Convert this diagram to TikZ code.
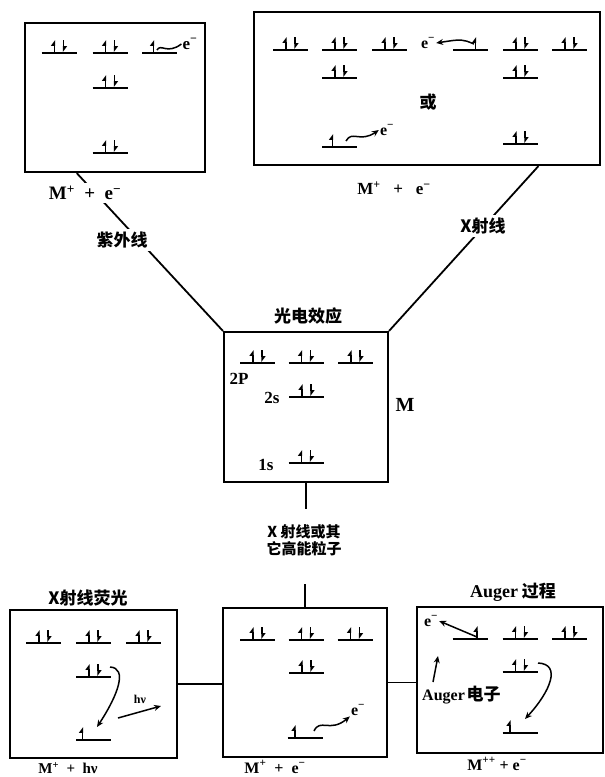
\documentclass[tikz,border=0pt]{standalone}
\usepackage{fontspec}
\setmainfont{Liberation Serif}
\newfontfamily\cjk{Noto Sans CJK SC}
\usetikzlibrary{arrows.meta,calc}
\begin{document}
\begin{tikzpicture}[x=1pt,y=-1pt,
  box/.style={draw,line width=2.2pt,inner sep=0pt},
  conn/.style={line width=1.8pt},
  lvl/.style={line width=2.2pt},
  el/.style={line width=1.5pt,-{Triangle[left,length=5pt,width=7pt]}},
  arr/.style={line width=1.5pt,-{Stealth[length=7pt,width=6pt]}},
  pics/lev2/.style={code={\draw[lvl] (-17.5,0)--(17.5,0); \draw[el] (-4.5,-1)--(-4.5,-13); \draw[el] (4.5,-13)--(4.5,-1);}},
  pics/lev1/.style={code={\draw[lvl] (-17.5,0)--(17.5,0); \draw[el] (#1,-1)--(#1,-13);}},
  lat/.style={font=\bfseries\fontsize{#1}{#1}\selectfont,inner sep=1pt},
  lat/.default=15,
  cn/.style={font=\cjk\bfseries\fontsize{#1}{#1}\selectfont},
  cn/.default=17,
  wh/.style={fill=white,inner sep=3pt}
]
\useasboundingbox (0,0) rectangle (605,777);
% boxes
\node[box,minimum width=180,minimum height=149] (tl) at (115,97.5) {};
\node[box,minimum width=346,minimum height=153] (tr) at (427,88.5) {};
\node[box,minimum width=164,minimum height=150] (mid) at (306,407) {};
\node[box,minimum width=167,minimum height=148] (bl) at (93.5,684) {};
\node[box,minimum width=164,minimum height=149] (bm) at (305,682.5) {};
\node[box,minimum width=186,minimum height=146] (br) at (510,680) {};
% connectors
\draw[conn] ($(tl.south west)!0.29!(tl.south east)$) -- (mid.north west);
\draw[conn] ($(tr.south west)!0.82!(tr.south east)$) -- (mid.north east);
\node[lat=19,wh] (tlres) at (85,193) {M\textsuperscript{+}\ \ +\ \ e\textsuperscript{−}};
\node[cn,wh] (uv) at (122,240) {紫外线};
\node[cn,wh] (xr) at (483,226) {\bfseries X射线};
\node[lat=17] (trres) at (394,188) {M\textsuperscript{+}\ \ \ +\ \ \ e\textsuperscript{−}};
\node[cn=15,align=center,inner sep=1pt] (hx) at (304,540) {X 射线或其\\[2pt]它高能粒子};
\draw[conn] (mid.south) -- ($(mid.south)+(0,26)$) coordinate (m1);
\draw[conn] (bm.north) -- ($(bm.north)+(0,-23)$) coordinate (m2);
\draw[conn] (bl.east) -- (bl.east -| bm.west);
\draw[conn] (bm.east) -- (bm.east -| br.west);
% titles
\node[cn] (pe) at (308,316) {光电效应};
\node[cn] (xf) at (88,598) {X射线荧光};
\node[cn] (ag) at (513,592) {{\bfseries\fontsize{18}{18}\selectfont\rmfamily Auger} 过程};
% top-left levels
\pic at (59,53) {lev2}; \pic at (110,53) {lev2}; \pic at (159.5,53) {lev1=-6};
\pic at (110,88) {lev2}; \pic at (110,153) {lev2};
\node[lat=17] (e1) at (190,44) {e\textsuperscript{−}};
\draw[line width=1.5pt] (157,50) .. controls (161,43) and (167,55) .. (e1.west);
% top-right levels
\pic at (290.5,50) {lev2}; \pic at (339.5,50) {lev2}; \pic at (389.5,50) {lev2};
\pic at (470.5,50) {lev1=5}; \pic at (520.5,50) {lev2}; \pic at (569.5,50) {lev2};
\pic at (339.5,78) {lev2}; \pic at (520.5,78) {lev2};
\pic at (339.5,147) {lev1=-7}; \pic at (520.5,144) {lev2};
\node[cn] (or) at (428,102) {或};
\node[lat=16] (e2) at (428,43) {e\textsuperscript{−}};
\draw[arr] (474,44) .. controls (462,39) .. (e2.east);
\node[lat=16] (e3) at (387,130) {e\textsuperscript{−}};
\draw[arr] (346,141) .. controls (352,130) and (360,143) .. (e3.west);
% middle box
\pic at (257.5,363) {lev2}; \pic at (306,363) {lev2}; \pic at (355.5,363) {lev2};
\pic at (306.5,397) {lev2}; \pic at (306,463) {lev2};
\node[lat=17] (p2) at (239,379) {2P};
\node[lat=17] (s2) at (272,398) {2s};
\node[lat=17] (s1) at (266,465) {1s};
\node[lat=20] (mm) at (405,405) {M};
% bottom-left
\pic at (43.5,643) {lev2}; \pic at (93.5,643) {lev2}; \pic at (143.5,643) {lev2};
\pic at (93.5,677) {lev2}; \pic at (93.5,740) {lev1=-11};
\draw[arr] (110,667) .. controls (128,668) and (118,695) .. (97,727);
\node[lat=12] (hv) at (140,699) {hν};
\coordinate (hv1) at (118,718); \coordinate (hv2) at (161,706);
\draw[arr] (hv1) -- (hv2);
\node[lat=15] (blres) at (68,768) {M\textsuperscript{+}\ \ +\ \ hν};
% bottom-middle
\pic at (257.5,640) {lev2}; \pic at (306,640) {lev2}; \pic at (355,640) {lev2};
\pic at (306.5,673) {lev2}; \pic at (305,738) {lev1=-10};
\node[lat=16] (e4) at (358,710) {e\textsuperscript{−}};
\draw[arr] (314,731) .. controls (320,718) and (330,733) .. (e4.south west);
\node[lat=16] (bmres) at (275,767) {M\textsuperscript{+}\ \ +\ \ e\textsuperscript{−}};
% bottom-right
\pic at (470,639) {lev1=7}; \pic at (520,639) {lev2}; \pic at (569.5,639) {lev2};
\pic at (520,672) {lev2}; \pic at (520,733) {lev1=-10};
\node[lat=16] (e5) at (431,621) {e\textsuperscript{−}};
\draw[arr] (477,637) -- (e5.east);
\draw[arr] (538,663) .. controls (562,664) and (550,692) .. (525,719);
\node[anchor=west,inner sep=1pt] (ae) at (421,695) {{\bfseries\fontsize{16}{16}\selectfont Auger}\,{\cjk\bfseries\fontsize{17}{17}\selectfont 电子}};
\coordinate (ae1) at (433,682); \coordinate (ae2) at (438,656);
\draw[arr] (ae1) -- (ae2);
\node[lat=16] (brres) at (497,764) {M\textsuperscript{++}\ +\ e\textsuperscript{−}};
\end{tikzpicture}
\end{document}
